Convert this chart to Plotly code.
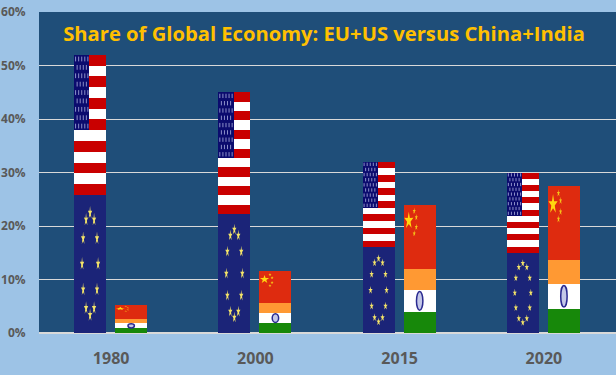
import math
import plotly.graph_objects as go

years = ["1980", "2000", "2015", "2020"]
eu = [25.8, 22.2, 16.0, 15.0]
us = [26.2, 22.8, 16.0, 15.0]
india = [2.7, 5.6, 12.0, 13.7]
china = [2.5, 5.9, 12.0, 13.8]
y_ticks = [0, 10, 20, 30, 40, 50, 60]
title_text = "Share of Global Economy: EU+US versus China+India"

W = 0.222
xa = [i + 0.354 for i in range(4)]
xb = [i + 0.639 for i in range(4)]

NAVY, RED, WHITE = "#0B0B6E", "#C90000", "#FFFFFF"
EU_BLUE, GOLD = "#1B2478", "#F4E468"
CN_RED, ORANGE, GREEN = "#DE2B0F", "#FF9933", "#17880A"

fig = go.Figure()

def bars(x, y, base, color, width=W):
    fig.add_trace(go.Bar(x=x, y=y, base=base, width=width, marker=dict(color=color, line_width=0),
                         hoverinfo="skip", showlegend=False))

def stars(items, color):
    """items: (cx, cy, rx, ry) in data units; each becomes a stretched five-point star."""
    xs, ys = [], []
    for cx, cy, rx, ry in items:
        for k in range(10):
            r = 1 if k % 2 == 0 else 0.38
            a = math.pi / 2 + k * math.pi / 5
            xs.append(cx + rx * r * math.cos(a))
            ys.append(cy + ry * r * math.sin(a))
        xs.append(xs[-10]); ys.append(ys[-10])
        xs.append(None); ys.append(None)
    fig.add_trace(go.Scatter(x=xs, y=ys, mode="lines", fill="toself", fillcolor=color,
                             line=dict(width=0, color=color), hoverinfo="skip", showlegend=False))

# EU + US stack
bars(xa, eu, [0] * 4, EU_BLUE)
for colour, offs in ((RED, range(0, 13, 2)), (WHITE, range(1, 13, 2))):
    xs, ys, bs = [], [], []
    for i in range(4):
        h = us[i] / 13
        for k in offs:
            xs.append(xa[i]); ys.append(h); bs.append(eu[i] + k * h)
    bars(xs, ys, bs, colour)
# canton
CW = 0.48 * W
bars([x - W / 2 + CW / 2 for x in xa], [u * 7 / 13 for u in us],
     [e + u * 6 / 13 for e, u in zip(eu, us)], NAVY, CW)

# China + India stack
third = [v / 3 for v in india]
bars(xb, third, [0] * 4, GREEN)
bars(xb, third, third, WHITE)
bars(xb, third, [2 * t for t in third], ORANGE)
bars(xb, china, india, CN_RED)

# US stars
sx, sy, ss = [], [], []
for i in range(4):
    h = us[i] * 7 / 13
    b = eu[i] + us[i] * 6 / 13
    rows = 9
    for r in range(rows):
        cols = 5 if r % 2 == 0 else 4
        for c in range(cols):
            shift = 0 if r % 2 == 0 else 0.5
            sx.append(xa[i] - W / 2 + CW * (c + 0.5 + shift) / 5)
            sy.append(b + h * (r + 0.5) / rows)
            ss.append(0.8 + 0.1 * us[i])
fig.add_trace(go.Scatter(x=sx, y=sy, mode="markers", hoverinfo="skip", showlegend=False,
                         marker=dict(symbol="line-ns", size=ss, color="#C4C9F0",
                                     line=dict(width=1, color="#C4C9F0"))))

# EU stars
ring_x = [0, .5, .866, 1, .866, .5, 0, -.5, -.866, -1, -.866, -.5]
ring_y = [1, .866, .5, 0, -.5, -.866, -1, -.866, -.5, 0, .5, .866]
eu_items = []
for i in range(4):
    for rx, ry in zip(ring_x, ring_y):
        eu_items.append((xa[i] + rx * W * 0.25, eu[i] / 2 + ry * eu[i] * 0.37,
                         W * 0.07, eu[i] * 0.05))
stars(eu_items, GOLD)

# China stars
stars([(xb[i] - W / 2 + 0.16 * W, india[i] + china[i] * 0.75, W * 0.15, china[i] * 0.14)
       for i in range(4)], "#FFD80F")
small = []
for i in range(4):
    for fx, fy in ((.33, .10), (.395, .2), (.395, .35), (.33, .45)):
        small.append((xb[i] - W / 2 + fx * W, india[i] + china[i] * (1 - fy),
                      W * 0.05, china[i] * 0.055))
stars(small, "#F5C518")

# Chakra
for i in range(4):
    fig.add_shape(type="circle", x0=xb[i] - W * 0.1, x1=xb[i] + W * 0.1,
                  y0=third[i] * 1.06, y1=third[i] * 1.94,
                  fillcolor="#C4C8E8", line=dict(color="#2A2A90", width=1.5))

fig.update_layout(
    width=616, height=375, autosize=False, barmode="overlay", bargap=0,
    margin=dict(l=39, r=0, t=12, b=42),
    paper_bgcolor="#9DC3E6", plot_bgcolor="#1F4E79", showlegend=False,
    title=dict(text=title_text, x=324 / 616, xanchor="center", y=1 - 34 / 375, yanchor="middle",
               font=dict(family="Open Sans", size=20.2, color="#FFC000", weight="bold")),
    xaxis=dict(range=[0, 4], tickvals=[i + 0.5 for i in range(4)], ticktext=years,
               showgrid=False, zeroline=False, ticks="outside", ticklen=11, tickcolor="rgba(0,0,0,0)",
               tickfont=dict(family="Open Sans", size=16, color="#595959", weight="bold")),
    yaxis=dict(range=[0, 60], tickvals=y_ticks, ticktext=[f"{v}%" for v in y_ticks],
               showgrid=True, gridcolor="#D9D9D9", gridwidth=1, zeroline=True, zerolinecolor="#D9D9D9",
               ticks="outside", ticklen=10, tickcolor="rgba(0,0,0,0)",
               tickfont=dict(family="Open Sans", size=12, color="#595959", weight="bold")),
)
fig.write_html("out.html", config={"displayModeBar": False},
               post_script="document.body.style.margin='0';document.body.style.overflow='hidden';")
